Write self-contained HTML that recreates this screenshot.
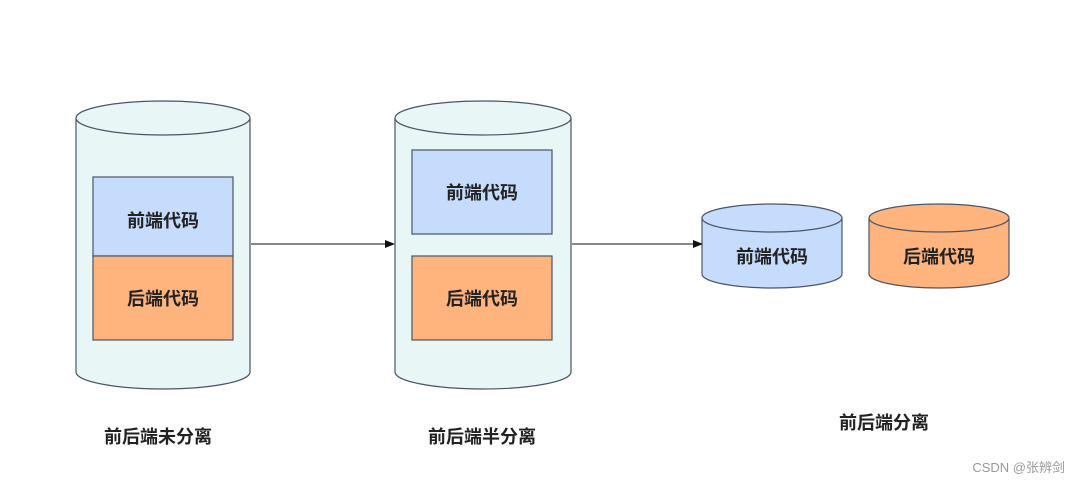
<!DOCTYPE html>
<html><head><meta charset="utf-8"><style>
html,body{margin:0;padding:0;background:#fff;width:1080px;height:486px;overflow:hidden}
</style></head><body>
<svg width="1080" height="486" xmlns="http://www.w3.org/2000/svg" font-family="'Liberation Sans','Noto Sans CJK SC',sans-serif">
<defs><marker id="a" markerWidth="10" markerHeight="10" refX="9" refY="5" orient="auto" markerUnits="userSpaceOnUse"><path d="M0,1 L10,5 L0,9 z" fill="#111"/></marker></defs>
<g stroke="#4a5568" stroke-width="1.2">
<path d="M76,118 L76,372 A87,17 0 0 0 250,372 L250,118" fill="#e8f6f5"/>
<ellipse cx="163" cy="118" rx="87" ry="17" fill="#e8f6f5"/>
<rect x="93" y="177" width="140" height="79" fill="#c6dcfd"/>
<rect x="93" y="256" width="140" height="84" fill="#ffb47e"/>
<path d="M395,118 L395,372 A88,17 0 0 0 571,372 L571,118" fill="#e8f6f5"/>
<ellipse cx="483" cy="118" rx="88" ry="17" fill="#e8f6f5"/>
<rect x="412" y="150" width="140" height="84" fill="#c6dcfd"/>
<rect x="412" y="256" width="140" height="84" fill="#ffb47e"/>
<path d="M702,218 L702,274 A70,14 0 0 0 842,274 L842,218" fill="#c6dcfd"/>
<ellipse cx="772" cy="218" rx="70" ry="14" fill="#c6dcfd"/>
<path d="M869,218 L869,274 A70,14 0 0 0 1009,274 L1009,218" fill="#ffb47e"/>
<ellipse cx="939" cy="218" rx="70" ry="14" fill="#ffb47e"/>
</g>
<g stroke="#111" stroke-width="1">
<line x1="251" y1="244" x2="394" y2="244" marker-end="url(#a)"/>
<line x1="572" y1="244" x2="702" y2="244" marker-end="url(#a)"/>
</g>
<g font-size="18" font-weight="bold" fill="#222" text-anchor="middle">
<text x="163" y="227">前端代码</text>
<text x="163" y="305">后端代码</text>
<text x="482" y="199">前端代码</text>
<text x="482" y="305">后端代码</text>
<text x="772" y="263">前端代码</text>
<text x="939" y="263">后端代码</text>
<text x="158" y="443">前后端未分离</text>
<text x="482" y="443">前后端半分离</text>
<text x="884" y="429">前后端分离</text>
</g>
<text x="1065" y="472" font-size="13" fill="#999" text-anchor="end">CSDN @张辨剑</text>
</svg>
</body></html>
